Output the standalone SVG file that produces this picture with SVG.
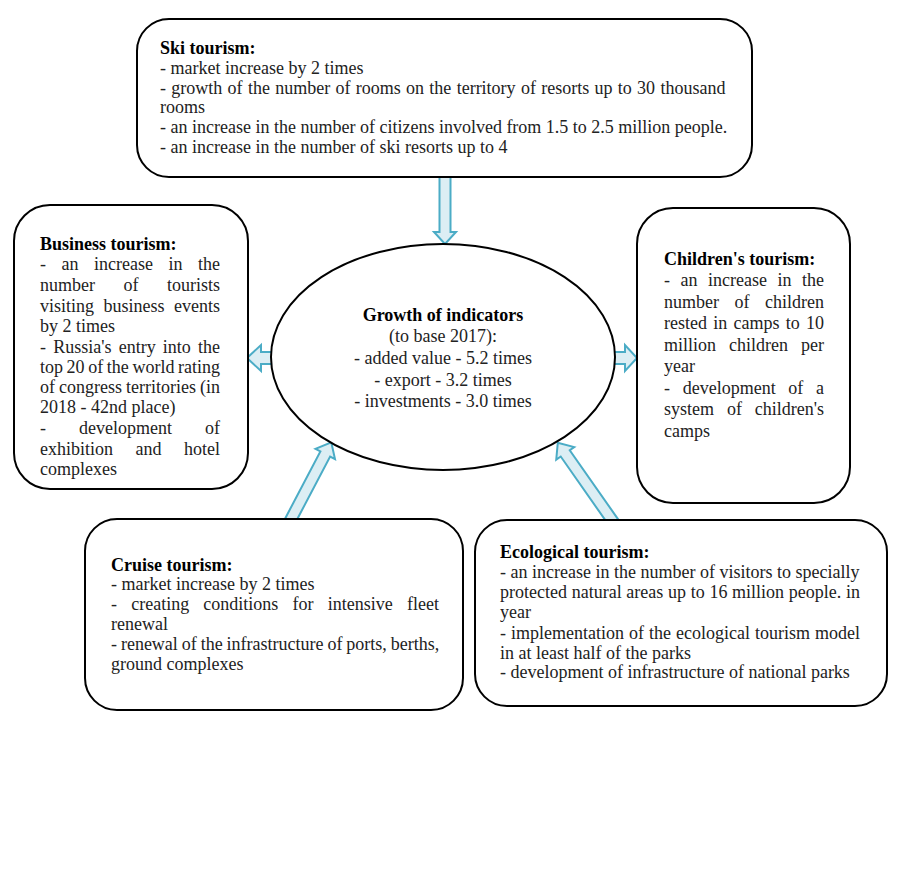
<svg xmlns="http://www.w3.org/2000/svg" width="901" height="887" viewBox="0 0 901 887">
<style>
.box{fill:#fff;stroke:#000;stroke-width:2}
.arr{fill:#dceef4;stroke:#4bacc6;stroke-width:2;stroke-linejoin:miter}
text{font-family:"Liberation Serif","Times New Roman",serif;font-size:18px;fill:#222}
.t{font-weight:bold;fill:#000}
.c{text-anchor:middle}
</style>
<rect width="901" height="887" fill="#fff"/>
<g id="connectors">
<polygon class="arr" points="439.5,176 450.5,176 450.5,232 456,232 445,244 434,232 439.5,232"/>
<polygon class="arr" points="274,352 261,352 261,345 247,358 261,371 261,364 274,364"/>
<polygon class="arr" points="612,352 625,352 625,345 637,358 625,371 625,364 612,364"/>
<polygon class="arr" transform="translate(289,523) rotate(-62.3)" points="0,-5.5 78,-5.5 78,-11 91,0 78,11 78,5.5 0,5.5"/>
<polygon class="arr" transform="translate(614,523) rotate(-125)" points="0,-5.5 85,-5.5 85,-11 98,0 85,11 85,5.5 0,5.5"/>
</g>
<g id="ski">
<rect class="box" x="137" y="19" width="615" height="158" rx="32"/>
<text class="t" x="160" y="54">Ski tourism:</text>
<text x="160" y="74">- market increase by 2 times</text>
<text x="160" y="94" word-spacing="0.8">- growth of the number of rooms on the territory of resorts up to 30 thousand</text>
<text x="160" y="113">rooms</text>
<text x="160" y="133">- an increase in the number of citizens involved from 1.5 to 2.5 million people.</text>
<text x="160" y="153">- an increase in the number of ski resorts up to 4</text>
</g>
<g id="business">
<rect class="box" x="14" y="205" width="234" height="284" rx="36"/>
<text class="t" x="40" y="250">Business tourism:</text>
<text x="40" y="270" word-spacing="11">- an increase in the</text>
<text x="40" y="291" word-spacing="24">number of tourists</text>
<text x="40" y="312" word-spacing="5">visiting business events</text>
<text x="40" y="332">by 2 times</text>
<text x="40" y="353" word-spacing="2.7">- Russia's entry into the</text>
<text x="40" y="373" word-spacing="-0.9">top 20 of the world rating</text>
<text x="40" y="393" word-spacing="-0.5">of congress territories (in</text>
<text x="40" y="413">2018 - 42nd place)</text>
<text x="40" y="434" word-spacing="28.5">- development of</text>
<text x="40" y="455" word-spacing="18">exhibition and hotel</text>
<text x="40" y="475">complexes</text>
</g>
<g id="children">
<rect class="box" x="637" y="208" width="213" height="295" rx="36"/>
<text class="t" x="664" y="265">Children's tourism:</text>
<text x="664" y="286" word-spacing="6">- an increase in the</text>
<text x="664" y="308" word-spacing="11">number of children</text>
<text x="664" y="329" word-spacing="1.75">rested in camps to 10</text>
<text x="664" y="351" word-spacing="8.5">million children per</text>
<text x="664" y="372">year</text>
<text x="664" y="394" word-spacing="8.2">- development of a</text>
<text x="664" y="415" word-spacing="8.4">system of children's</text>
<text x="664" y="437">camps</text>
</g>
<g id="growth">
<ellipse class="box" cx="443" cy="357" rx="172" ry="113"/>
<text class="t c" x="443" y="321">Growth of indicators</text>
<text class="c" x="443" y="342">(to base 2017):</text>
<text class="c" x="443" y="364">- added value - 5.2 times</text>
<text class="c" x="443" y="386">- export - 3.2 times</text>
<text class="c" x="443" y="407">- investments - 3.0 times</text>
</g>
<g id="cruise">
<rect class="box" x="85" y="519" width="378" height="191" rx="32"/>
<text class="t" x="111" y="571">Cruise tourism:</text>
<text x="111" y="590">- market increase by 2 times</text>
<text x="111" y="610" word-spacing="9.7">- creating conditions for intensive fleet</text>
<text x="111" y="630">renewal</text>
<text x="111" y="650" word-spacing="-0.6">- renewal of the infrastructure of ports, berths,</text>
<text x="111" y="670">ground complexes</text>
</g>
<g id="ecological">
<rect class="box" x="475" y="520" width="412" height="186" rx="32"/>
<text class="t" x="500" y="558">Ecological tourism:</text>
<text x="500" y="578">- an increase in the number of visitors to specially</text>
<text x="500" y="598" word-spacing="0.2">protected natural areas up to 16 million people. in</text>
<text x="500" y="618">year</text>
<text x="500" y="639" word-spacing="0.5">- implementation of the ecological tourism model</text>
<text x="500" y="659">in at least half of the parks</text>
<text x="500" y="678">- development of infrastructure of national parks</text>
</g>
</svg>
